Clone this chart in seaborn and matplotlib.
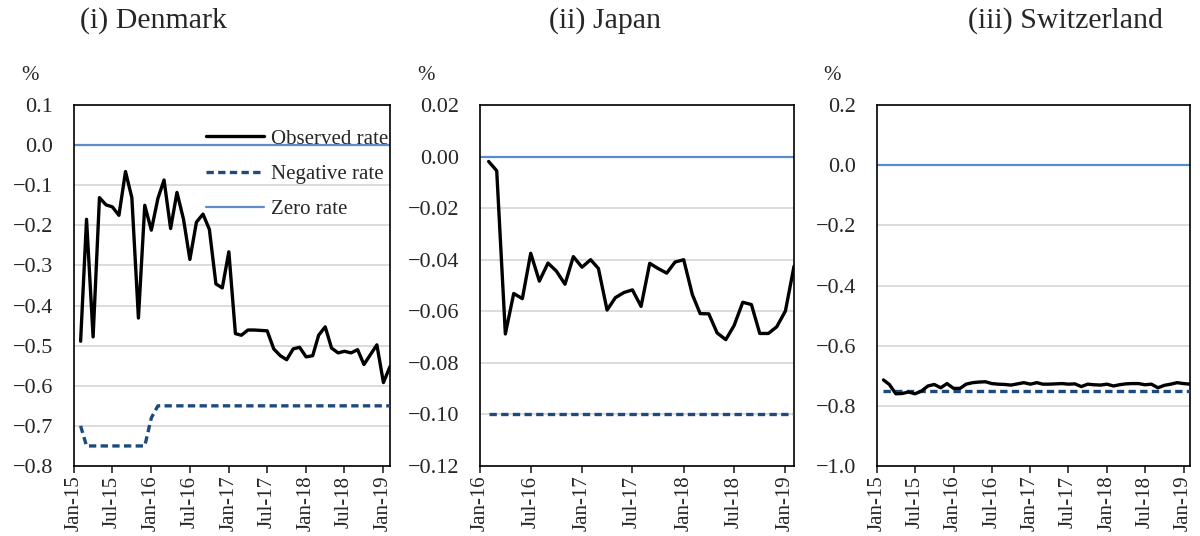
import matplotlib
import numpy as np
import pandas as pd
import matplotlib.pyplot as plt
import matplotlib.dates as mdates
import seaborn as sns

matplotlib.use('Agg')

# Denmark, Feb-15 .. Feb-19 (monthly)
dk_observed = [-0.489, -0.185, -0.478, -0.131, -0.149, -0.154, -0.175, -0.066, -0.131, -0.431,
               -0.150, -0.212, -0.133, -0.087, -0.208, -0.118, -0.185, -0.285, -0.192, -0.172,
               -0.210, -0.346, -0.356, -0.266, -0.470, -0.474, -0.461, -0.461, -0.462, -0.463,
               -0.508, -0.525, -0.535, -0.508, -0.504, -0.528, -0.525, -0.474, -0.453, -0.506,
               -0.518, -0.514, -0.518, -0.510, -0.547, -0.522, -0.498, -0.592, -0.552]
dk_negative = [-0.70] + [-0.75] * 10 + [-0.68] + [-0.65] * 37

# Japan, Feb-16 .. Feb-19
jp_observed = [-0.0019, -0.0055, -0.0688, -0.0531, -0.0551, -0.0375, -0.0483, -0.0413, -0.0444,
               -0.0495, -0.0388, -0.0429, -0.0400, -0.0434, -0.0595, -0.0547, -0.0527, -0.0517,
               -0.0581, -0.0414, -0.0434, -0.0452, -0.0409, -0.0400, -0.0535, -0.0609, -0.0610,
               -0.0684, -0.0710, -0.0655, -0.0565, -0.0574, -0.0686, -0.0686, -0.0660, -0.0599,
               -0.0425]
jp_negative = [-0.10] * 37

# Switzerland, Feb-15 .. Feb-19
ch_observed = [-0.714, -0.729, -0.760, -0.759, -0.754, -0.760, -0.751, -0.734, -0.729, -0.740,
               -0.726, -0.742, -0.742, -0.728, -0.723, -0.721, -0.720, -0.726, -0.728, -0.729,
               -0.731, -0.727, -0.723, -0.728, -0.723, -0.728, -0.728, -0.727, -0.726, -0.728,
               -0.727, -0.736, -0.728, -0.730, -0.731, -0.728, -0.734, -0.730, -0.727, -0.726,
               -0.726, -0.730, -0.728, -0.740, -0.732, -0.728, -0.723, -0.726, -0.728]
ch_negative = [-0.75] * 49

zero_rate = 0.0

panels = [
    {'title': '(i) Denmark', 'start': '2015-02-01', 'xmin': '2015-01-01',
     'obs': dk_observed, 'neg': dk_negative,
     'yticks': np.round(np.arange(-0.8, 0.11, 0.1), 2), 'fmt': '{:.1f}',
     'title_x': 0.128, 'pct_x': 0.025},
    {'title': '(ii) Japan', 'start': '2016-02-01', 'xmin': '2016-01-01',
     'obs': jp_observed, 'neg': jp_negative,
     'yticks': np.round(np.arange(-0.12, 0.021, 0.02), 2), 'fmt': '{:.2f}',
     'title_x': 0.504, 'pct_x': 0.355},
    {'title': '(iii) Switzerland', 'start': '2015-02-01', 'xmin': '2015-01-01',
     'obs': ch_observed, 'neg': ch_negative,
     'yticks': np.round(np.arange(-1.0, 0.21, 0.2), 2), 'fmt': '{:.1f}',
     'title_x': 0.888, 'pct_x': 0.693},
]

axes_pos = [(0.0617, 0.1306, 0.2633, 0.6735),
            (0.400, 0.1306, 0.2617, 0.6735),
            (0.7308, 0.1306, 0.2609, 0.6735)]


def main():
    sns.set_style('white')
    plt.rcParams['font.family'] = ['Liberation Serif', 'DejaVu Serif']

    fig = plt.figure(figsize=(12, 5.36), dpi=100)

    for p, pos in zip(panels, axes_pos):
        ax = fig.add_axes(pos)
        dates = pd.date_range(p['start'], periods=len(p['obs']), freq='MS')
        df = pd.DataFrame({'date': dates, 'obs': p['obs'], 'neg': p['neg']})

        ax.axhline(zero_rate, color='#5b8bc9', lw=1.6, label='Zero rate', zorder=2)
        sns.lineplot(data=df, x='date', y='neg', ax=ax, color='#1f4a7d', lw=2.4,
                     linestyle=(0, (2.2, 1.3)), label='Negative rate', zorder=3)
        sns.lineplot(data=df, x='date', y='obs', ax=ax, color='black', lw=2.4,
                     label='Observed rate', zorder=4)

        yt = p['yticks']
        ax.set_ylim(yt[0], yt[-1])
        ax.set_yticks(yt)
        labels = []
        for v in yt:
            v = 0.0 if abs(v) < 1e-9 else v
            labels.append(p['fmt'].format(v).replace('-', '\u2212'))
        ax.set_yticklabels(labels)
        ax.yaxis.grid(True, color='#d9d9d9', lw=1.3)
        ax.set_axisbelow(True)

        ax.set_xlim(pd.Timestamp(p['xmin']), dates[-1])
        ax.xaxis.set_major_locator(mdates.MonthLocator(bymonth=[1, 7]))
        ax.xaxis.set_major_formatter(mdates.DateFormatter('%b-%y'))
        ax.tick_params(axis='x', rotation=90, labelsize=15, length=5, width=1.2,
                       direction='out', bottom=True, pad=2)
        ax.tick_params(axis='y', labelsize=16, length=0, pad=15)
        ax.set_xlabel('')
        ax.set_ylabel('')
        for s in ax.spines.values():
            s.set_color('black')
            s.set_linewidth(1.2)

        fig.text(p['pct_x'], 0.860, '%', fontsize=15, ha='center', va='center')
        fig.text(p['title_x'], 0.962, p['title'], fontsize=21.5, ha='center', va='center')

        if p['title'].startswith('(i) '):
            h, l = ax.get_legend_handles_labels()
            order = [l.index('Observed rate'), l.index('Negative rate'), l.index('Zero rate')]
            ax.legend([h[i] for i in order], [l[i] for i in order], loc='upper right',
                      bbox_to_anchor=(1.055, 0.985), frameon=False, fontsize=15,
                      handlelength=2.8, handletextpad=0.35, labelspacing=0.75)
        else:
            ax.get_legend().remove()

    plt.savefig('out.png', dpi=100)


if __name__ == '__main__':
    main()
